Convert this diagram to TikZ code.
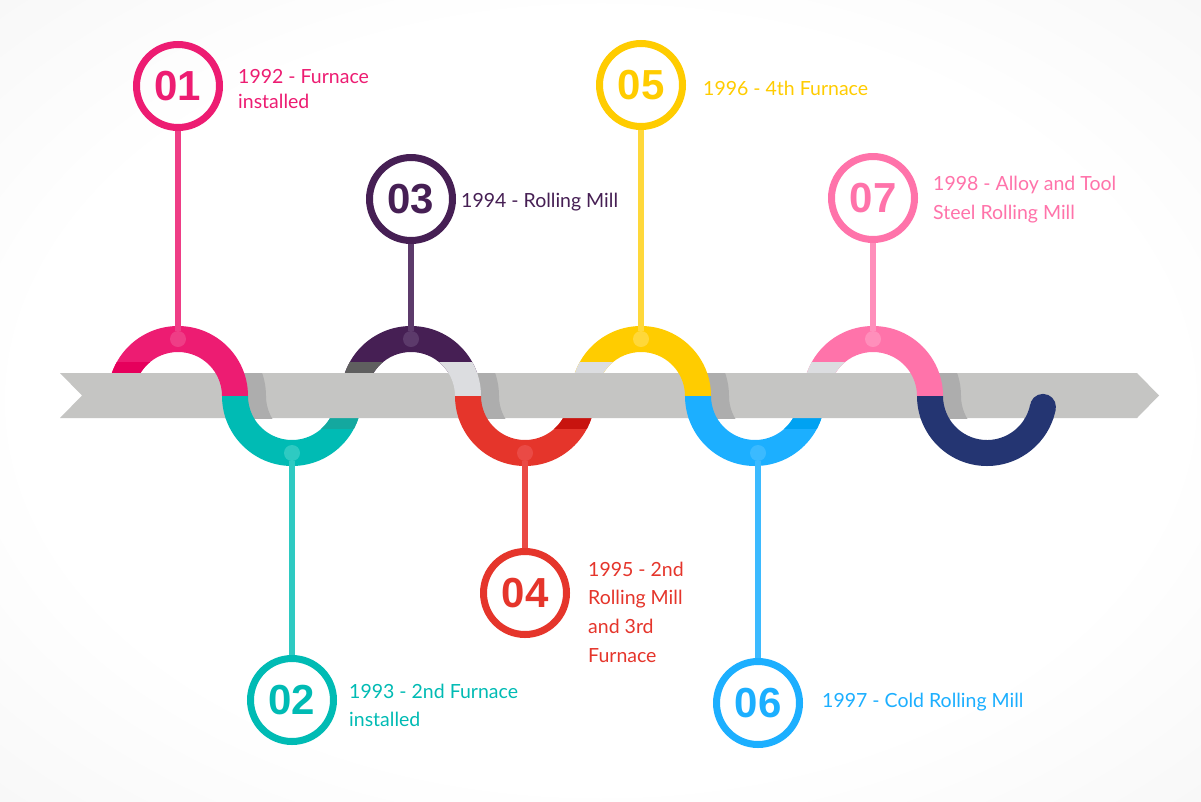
\documentclass[tikz,border=0pt]{standalone}
\usepackage{fontspec}
\setmainfont{Lato}
\newfontfamily\numfont{Liberation Sans}
\definecolor{c1}{HTML}{ED1C72}\definecolor{c1l}{HTML}{EF3D86}\definecolor{c1d}{HTML}{E6005C}
\definecolor{c2}{HTML}{00BBB4}\definecolor{c2l}{HTML}{2ECAC2}\definecolor{c2d}{HTML}{14A89F}
\definecolor{c3}{HTML}{461F54}\definecolor{c3l}{HTML}{5C3A6B}
\definecolor{c4}{HTML}{E5352B}\definecolor{c4l}{HTML}{EA4A45}\definecolor{c4d}{HTML}{C8140F}
\definecolor{c5}{HTML}{FFCC00}\definecolor{c5l}{HTML}{FFD83A}
\definecolor{c6}{HTML}{1CAFFF}\definecolor{c6l}{HTML}{3BBAFF}\definecolor{c6d}{HTML}{00A2F2}
\definecolor{c7}{HTML}{FF73AA}\definecolor{c7l}{HTML}{FF8FBB}
\definecolor{navy}{HTML}{243572}
\definecolor{bandc}{HTML}{C5C5C3}\definecolor{shadowc}{HTML}{ADADAD}
\definecolor{lgray}{HTML}{DCDDE0}\definecolor{dgray}{HTML}{5F5F5F}
\definecolor{bgmid}{HTML}{EFEFEF}\definecolor{bgcorner}{HTML}{E2E2E2}
\pgfdeclareradialshading{bgshade}{\pgfpoint{0bp}{0bp}}{color(0bp)=(white); color(24bp)=(white); color(50bp)=(bgmid); color(71bp)=(bgcorner)}
\newcommand\UpArc[2]{\fill[#2] ({#1-70},396) arc[start angle=180,end angle=360,radius=70] -- ({#1+44},396) arc[start angle=0,end angle=-180,radius=44] -- cycle;}
\newcommand\DownArc[2]{\fill[#2] ({#1-70},396) arc[start angle=180,end angle=0,radius=70] -- ({#1+44},396) arc[start angle=0,end angle=180,radius=44] -- cycle;}
\newcommand\NavyEnd{\fill[navy] (917,396) arc[start angle=180,end angle=11,radius=70] -- (1030.19,404.40) arc[start angle=11,end angle=180,radius=44] -- cycle;
  \fill[navy] (1042.95,406.88) circle[radius=13];}
% upper-left stripe just above the band
\newcommand\UpStripe[2]{\begin{scope}\clip ({#1-80},362) rectangle ({#1-20},373);\UpArc{#1}{#2}\end{scope}}
% lower-right stripe just below the band
\newcommand\DownStripe[2]{\begin{scope}\clip ({#1+20},418) rectangle ({#1+80},428);\DownArc{#1}{#2}\end{scope}}
% crossing over the band: upper arc at #1 (colour #2), lower arc at #1+114 (colour #3)
\newcommand\Cross[3]{\begin{scope}\clip ({#1+20},373) rectangle ({#1+90},418);\UpArc{#1}{#2}\DownArc{#1+114}{#3}\end{scope}}
\newcommand\CrossShadow[1]{\begin{scope}\clip (60,373) rectangle (1137,418);
  \begin{scope}[xshift=18]\clip ({#1+20},373) rectangle ({#1+90},418);\UpArc{#1}{shadowc}\DownArc{#1+114}{shadowc}\end{scope}\end{scope}}
\tikzset{
  ring/.style={circle, draw=#1, line width=7pt, minimum size=83pt, inner sep=0pt, text=#1,
    font=\numfont\bfseries\fontsize{42}{42}\selectfont},
  dotn/.style={circle, fill=#1, minimum size=16pt, inner sep=0pt},
  stem/.style={draw=#1, line width=6.5pt},
  lbl/.style={anchor=north west, inner sep=0pt, align=left, text=#1, font=\fontsize{19.5}{28}\selectfont},
}
\begin{document}
\begin{tikzpicture}[x=1pt,y=-1pt]
\shade[shading=bgshade] (0,0) rectangle (1201,801);
\useasboundingbox (0,0) rectangle (1201,801);
% full arcs
\UpArc{178}{c1}\DownArc{292}{c2}
\UpArc{411}{c3}\DownArc{525}{c4}
\UpArc{641}{c5}\DownArc{755}{c6}
\UpArc{873}{c7}
\NavyEnd
% stripes
\UpStripe{178}{c1d}\UpStripe{411}{dgray}\UpStripe{641}{lgray}\UpStripe{873}{lgray}
\DownStripe{292}{c2d}\DownStripe{525}{c4d}\DownStripe{755}{c6d}
% band
\fill[bandc] (60,373) -- (1137,373) -- (1159,395.5) -- (1137,418) -- (60,418) -- (82,395.5) -- cycle;
% shadows of crossings
\CrossShadow{178}\CrossShadow{411}\CrossShadow{641}\CrossShadow{873}
% crossings on top of the band
\Cross{178}{c1}{c2}
\Cross{411}{lgray}{c4}
\begin{scope}\clip (431,362) rectangle (501,373);\UpArc{411}{lgray}\end{scope}
\Cross{641}{c5}{c6}
\Cross{873}{c7}{navy}
% end of the ribbon lies on top of the band
\begin{scope}\clip (987,360) rectangle (1080,418);\NavyEnd\end{scope}
% numbered circles, stems, dots
\node[ring=c1] (n1) at (178,86) {01};
\node[ring=c2] (n2) at (292,700) {02};
\node[ring=c3] (n3) at (411,199) {03};
\node[ring=c4] (n4) at (525,593) {04};
\node[ring=c5] (n5) at (641,85) {05};
\node[ring=c6] (n6) at (758,703) {06};
\node[ring=c7] (n7) at (873,198) {07};
\node[dotn=c1l] (d1) at (178,339) {};
\node[dotn=c2l] (d2) at (292,453) {};
\node[dotn=c3l] (d3) at (411,339) {};
\node[dotn=c4l] (d4) at (525,453) {};
\node[dotn=c5l] (d5) at (641,339) {};
\node[dotn=c6l] (d6) at (758,453) {};
\node[dotn=c7l] (d7) at (873,339) {};
\draw[stem=c1l] (n1) -- (d1);
\draw[stem=c2l] (n2) -- (d2);
\draw[stem=c3l] (n3) -- (d3);
\draw[stem=c4l] (n4) -- (d4);
\draw[stem=c5l] (n5) -- (d5);
\draw[stem=c6l] (n6) -- (d6);
\draw[stem=c7l] (n7) -- (d7);
% labels
\node[lbl=c1, font=\fontsize{19.5}{25}\selectfont] (t1) at (238,69.5) {1992 - Furnace\\installed};
\node[lbl=c2] (t2) at (349,683.5) {1993 - 2nd Furnace\\installed};
\node[lbl=c3] (t3) at (461,192.5) {1994 - Rolling Mill};
\node[lbl=c4, font=\fontsize{19.5}{28.7}\selectfont] (t4) at (588,561.5) {1995 - 2nd\\Rolling Mill\\and 3rd\\Furnace};
\node[lbl=c5] (t5) at (703,80.5) {1996 - 4th Furnace};
\node[lbl=c6] (t6) at (822,693) {1997 - Cold Rolling Mill};
\node[lbl=c7, font=\fontsize{19.5}{29}\selectfont] (t7) at (933,175.5) {1998 - Alloy and Tool\\Steel Rolling Mill};
\end{tikzpicture}
\end{document}
